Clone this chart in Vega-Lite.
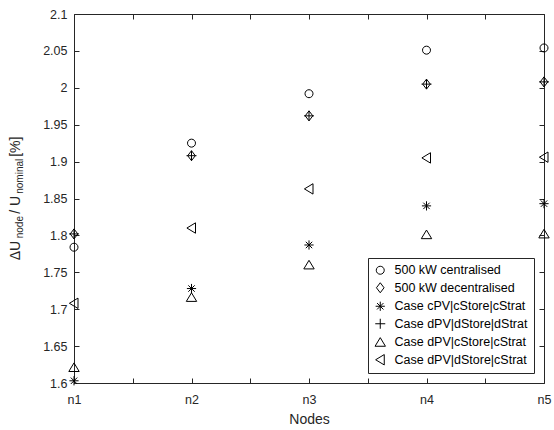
{
  "$schema": "https://vega.github.io/schema/vega-lite/v6.json",
  "width": 470,
  "height": 369,
  "autosize": "none",
  "padding": {"left": 74, "top": 14, "right": 10, "bottom": 47},
  "background": "white",
  "config": {
    "font": "Liberation Sans",
    "view": {"stroke": "#262626", "strokeWidth": 1},
    "axis": {
      "domain": false,
      "grid": false,
      "tickColor": "#262626",
      "tickSize": -5,
      "labelColor": "#262626",
      "labelFontSize": 12.5,
      "labelFont": "Liberation Sans",
      "titleColor": "#262626",
      "titleFont": "Liberation Sans",
      "titleFontWeight": "normal",
      "titleFontSize": 14
    }
  },
  "title": {
    "text": "ΔU\u00a0\u00a0\u00a0\u00a0\u00a0\u00a0\u00a0/\u00a0U\u00a0\u00a0\u00a0\u00a0\u00a0\u00a0\u00a0\u00a0\u00a0\u00a0[%]",
    "subtitle": "node\u00a0\u00a0\u00a0\u00a0\u00a0\u00a0\u00a0\u00a0nominal\u00a0\u00a0",
    "orient": "left",
    "anchor": "middle",
    "font": "Liberation Sans",
    "subtitleFont": "Liberation Sans",
    "fontSize": 14,
    "subtitleFontSize": 10,
    "fontWeight": "normal",
    "color": "#262626",
    "subtitleColor": "#262626",
    "subtitlePadding": -8,
    "offset": 18
  },
  "data": {
    "values": [
      {"node": 1, "series": "500 kW centralised", "value": 1.784},
      {"node": 2, "series": "500 kW centralised", "value": 1.925},
      {"node": 3, "series": "500 kW centralised", "value": 1.992},
      {"node": 4, "series": "500 kW centralised", "value": 2.051},
      {"node": 5, "series": "500 kW centralised", "value": 2.054},
      {"node": 1, "series": "500 kW decentralised", "value": 1.802},
      {"node": 2, "series": "500 kW decentralised", "value": 1.908},
      {"node": 3, "series": "500 kW decentralised", "value": 1.962},
      {"node": 4, "series": "500 kW decentralised", "value": 2.005},
      {"node": 5, "series": "500 kW decentralised", "value": 2.008},
      {"node": 1, "series": "Case cPV|cStore|cStrat", "value": 1.603},
      {"node": 2, "series": "Case cPV|cStore|cStrat", "value": 1.728},
      {"node": 3, "series": "Case cPV|cStore|cStrat", "value": 1.787},
      {"node": 4, "series": "Case cPV|cStore|cStrat", "value": 1.840},
      {"node": 5, "series": "Case cPV|cStore|cStrat", "value": 1.843},
      {"node": 1, "series": "Case dPV|dStore|dStrat", "value": 1.802},
      {"node": 2, "series": "Case dPV|dStore|dStrat", "value": 1.908},
      {"node": 3, "series": "Case dPV|dStore|dStrat", "value": 1.962},
      {"node": 4, "series": "Case dPV|dStore|dStrat", "value": 2.005},
      {"node": 5, "series": "Case dPV|dStore|dStrat", "value": 2.008},
      {"node": 1, "series": "Case dPV|cStore|cStrat", "value": 1.621},
      {"node": 2, "series": "Case dPV|cStore|cStrat", "value": 1.716},
      {"node": 3, "series": "Case dPV|cStore|cStrat", "value": 1.760},
      {"node": 4, "series": "Case dPV|cStore|cStrat", "value": 1.801},
      {"node": 5, "series": "Case dPV|cStore|cStrat", "value": 1.802},
      {"node": 1, "series": "Case dPV|dStore|cStrat", "value": 1.708},
      {"node": 2, "series": "Case dPV|dStore|cStrat", "value": 1.810},
      {"node": 3, "series": "Case dPV|dStore|cStrat", "value": 1.863},
      {"node": 4, "series": "Case dPV|dStore|cStrat", "value": 1.905},
      {"node": 5, "series": "Case dPV|dStore|cStrat", "value": 1.906}
    ]
  },
  "layer": [
    {
      "mark": {"type": "point", "filled": false, "size": 64, "strokeWidth": 1, "color": "#000", "opacity": 1},
      "encoding": {
        "x": {
          "field": "node",
          "type": "quantitative",
          "scale": {"domain": [1, 5], "nice": false, "zero": false},
          "axis": {
            "values": [1, 1.5, 2, 2.5, 3, 3.5, 4, 4.5, 5],
            "labelExpr": "datum.value % 1 === 0 ? 'n' + datum.value : ''",
            "labelPadding": 15,
            "labelFlush": false,
            "title": "Nodes",
            "titlePadding": 7
          }
        },
        "y": {
          "field": "value",
          "type": "quantitative",
          "scale": {"domain": [1.6, 2.1], "nice": false, "zero": false},
          "axis": {
            "values": [1.6, 1.65, 1.7, 1.75, 1.8, 1.85, 1.9, 1.95, 2, 2.05, 2.1],
            "format": ".3~g",
            "labelPadding": 12,
            "labelFlush": false,
            "title": null
          }
        },
        "shape": {
          "field": "series",
          "type": "nominal",
          "scale": {
            "domain": ["500 kW centralised", "500 kW decentralised", "Case cPV|cStore|cStrat", "Case dPV|dStore|dStrat", "Case dPV|cStore|cStrat", "Case dPV|dStore|cStrat"],
            "range": [
              "M1,0A1,1,0,1,1,-1,0A1,1,0,1,1,1,0Z",
              "M0,-1.25L0.95,0L0,1.25L-0.95,0Z",
              "M-1.15,0L1.15,0M0,-1.15L0,1.15M-0.8,-0.8L0.8,0.8M-0.8,0.8L0.8,-0.8",
              "M-1.25,0L1.25,0M0,-1.25L0,1.25",
              "M0,-1.15L1.3,1L-1.3,1Z",
              "M-1.15,0L1,-1.3L1,1.3Z"
            ]
          },
          "legend": {
            "title": null,
            "orient": "bottom-right",
            "offset": 10,
            "strokeColor": "#262626",
            "fillColor": "white",
            "padding": 6,
            "labelFont": "Liberation Sans",
            "labelFontSize": 12.5,
            "labelColor": "#000",
            "labelLimit": 300,
            "symbolSize": 64,
            "symbolStrokeWidth": 1,
            "symbolStrokeColor": "#000",
            "symbolFillColor": "transparent",
            "rowPadding": 3.5,
            "labelOffset": 8
          }
        }
      }
    },
    {
      "mark": {"type": "point", "opacity": 0},
      "encoding": {
        "x": {
          "field": "node",
          "type": "quantitative",
          "axis": {"orient": "top", "values": [1, 1.5, 2, 2.5, 3, 3.5, 4, 4.5, 5], "labels": false, "title": null}
        },
        "y": {
          "field": "value",
          "type": "quantitative",
          "axis": {"orient": "right", "values": [1.6, 1.65, 1.7, 1.75, 1.8, 1.85, 1.9, 1.95, 2, 2.05, 2.1], "labels": false, "title": null}
        }
      }
    }
  ],
  "resolve": {"axis": {"x": "independent", "y": "independent"}}
}
